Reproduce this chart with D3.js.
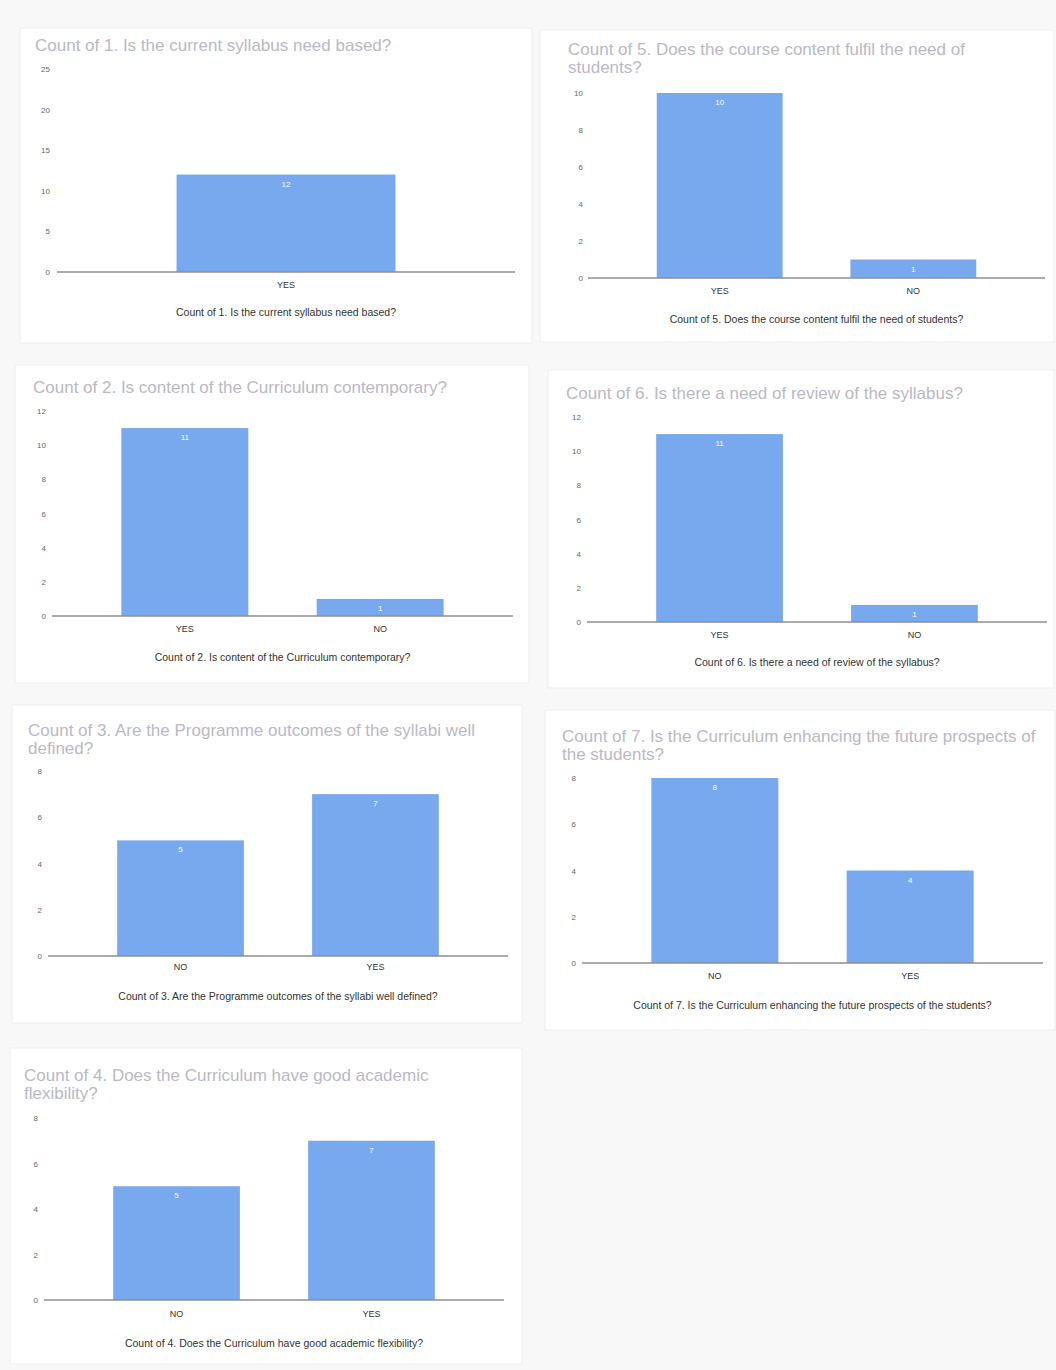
<!DOCTYPE html>
<html><head><meta charset="utf-8">
<script src="https://cdn.jsdelivr.net/npm/d3@7"></script>
<style>
html,body{margin:0;padding:0;background:#f8f8f8;}
svg{display:block;font-family:"Liberation Sans",Arial,sans-serif;}
</style></head>
<body><svg id="c" width="1056" height="1370"></svg>
<script>
// ---- data ----
const q1Title = ["Count of 1. Is the current syllabus need based?"];
const q1Categories = ["YES"];
const q1Values = [12];
const q1Ticks = [0, 5, 10, 15, 20, 25];

const q2Title = ["Count of 2. Is content of the Curriculum contemporary?"];
const q2Categories = ["YES", "NO"];
const q2Values = [11, 1];
const q2Ticks = [0, 2, 4, 6, 8, 10, 12];

const q3Title = ["Count of 3. Are the Programme outcomes of the syllabi well", "defined?"];
const q3Categories = ["NO", "YES"];
const q3Values = [5, 7];
const q3Ticks = [0, 2, 4, 6, 8];

const q4Title = ["Count of 4. Does the Curriculum have good academic", "flexibility?"];
const q4Categories = ["NO", "YES"];
const q4Values = [5, 7];
const q4Ticks = [0, 2, 4, 6, 8];

const q5Title = ["Count of 5. Does the course content fulfil the need of", "students?"];
const q5Categories = ["YES", "NO"];
const q5Values = [10, 1];
const q5Ticks = [0, 2, 4, 6, 8, 10];

const q6Title = ["Count of 6. Is there a need of review of the syllabus?"];
const q6Categories = ["YES", "NO"];
const q6Values = [11, 1];
const q6Ticks = [0, 2, 4, 6, 8, 10, 12];

const q7Title = ["Count of 7. Is the Curriculum enhancing the future prospects of", "the students?"];
const q7Categories = ["NO", "YES"];
const q7Values = [8, 4];
const q7Ticks = [0, 2, 4, 6, 8];

// ---- layout (positions only) ----
const layout = [
  {title:q1Title, cats:q1Categories, vals:q1Values, ticks:q1Ticks,
   panel:[20,28,512,315], tx:35, ty:51, left:57, right:515, top:69, bottom:272, tickX:50, xLab:289, axT:316},
  {title:q5Title, cats:q5Categories, vals:q5Values, ticks:q5Ticks,
   panel:[540,30,514,312], tx:568, ty:55, left:588, right:1045, top:93, bottom:278, tickX:583, xLab:295, axT:323},
  {title:q2Title, cats:q2Categories, vals:q2Values, ticks:q2Ticks,
   panel:[15,365,514,318], tx:33, ty:393, left:52, right:513, top:411, bottom:616, tickX:46, xLab:633, axT:661},
  {title:q6Title, cats:q6Categories, vals:q6Values, ticks:q6Ticks,
   panel:[548,370,506,318], tx:566, ty:399, left:587, right:1047, top:417, bottom:622, tickX:581, xLab:639, axT:666},
  {title:q3Title, cats:q3Categories, vals:q3Values, ticks:q3Ticks,
   panel:[12,705,510,318], tx:28, ty:736, left:48, right:508, top:771, bottom:956, tickX:42, xLab:971, axT:1000},
  {title:q7Title, cats:q7Categories, vals:q7Values, ticks:q7Ticks,
   panel:[545,710,510,320], tx:562, ty:742, left:582, right:1043, top:778, bottom:963, tickX:576, xLab:980, axT:1009},
  {title:q4Title, cats:q4Categories, vals:q4Values, ticks:q4Ticks,
   panel:[10,1048,512,316], tx:24, ty:1081, left:44, right:504, top:1118, bottom:1300, tickX:38, xLab:1318, axT:1347}
];

const svg = d3.select("#c");
const barColor = "#78a8ee";

layout.forEach(L => {
  const g = svg.append("g");
  g.append("rect").attr("x", L.panel[0]).attr("y", L.panel[1])
    .attr("width", L.panel[2]).attr("height", L.panel[3])
    .attr("fill", "#ffffff").attr("stroke", "#ededed");

  // title
  L.title.forEach((t, i) => {
    g.append("text").attr("x", L.tx).attr("y", L.ty + i * 18)
      .attr("font-size", 17).attr("fill", "#bab8c4").text(t);
  });

  const x = d3.scaleBand().domain(L.cats).range([L.left, L.right])
    .paddingInner(0.35).paddingOuter(0.355);
  const y = d3.scaleLinear().domain([0, d3.max(L.ticks)]).range([L.bottom, L.top]);

  // y axis labels
  const ya = d3.axisLeft(y).tickValues(L.ticks).tickSize(0).tickPadding(0);
  const yg = g.append("g").attr("transform", `translate(${L.tickX},0)`).call(ya);
  yg.select(".domain").remove();
  yg.selectAll("text").attr("font-size", 8).attr("fill", "#666").attr("font-family", "inherit");

  // bars
  g.selectAll(".bar").data(L.cats).enter().append("rect")
    .attr("x", d => x(d)).attr("width", x.bandwidth())
    .attr("y", (d, i) => y(L.vals[i]))
    .attr("height", (d, i) => y(0) - y(L.vals[i]))
    .attr("fill", barColor);

  // value labels
  g.selectAll(".vl").data(L.cats).enter().append("text")
    .attr("x", d => x(d) + x.bandwidth() / 2)
    .attr("y", (d, i) => y(L.vals[i]) + 12)
    .attr("text-anchor", "middle").attr("font-size", 8).attr("fill", "#ffffff")
    .text((d, i) => L.vals[i]);

  // baseline
  g.append("line").attr("x1", L.left).attr("x2", L.right)
    .attr("y1", y(0)).attr("y2", y(0)).attr("stroke", "#8f8f8f").attr("stroke-width", 1.5);

  // x labels
  const xa = d3.axisBottom(x).tickSize(0).tickPadding(0);
  const xg = g.append("g").attr("transform", `translate(0,${L.xLab - 7})`).call(xa);
  xg.select(".domain").remove();
  xg.selectAll("text").attr("font-size", 9).attr("fill", "#333").attr("font-family", "inherit");

  // axis title
  g.append("text").attr("x", (L.left + L.right) / 2).attr("y", L.axT)
    .attr("text-anchor", "middle").attr("font-size", 10.5).attr("fill", "#333")
    .text(L.title.join(" "));
});
</script></body></html>
